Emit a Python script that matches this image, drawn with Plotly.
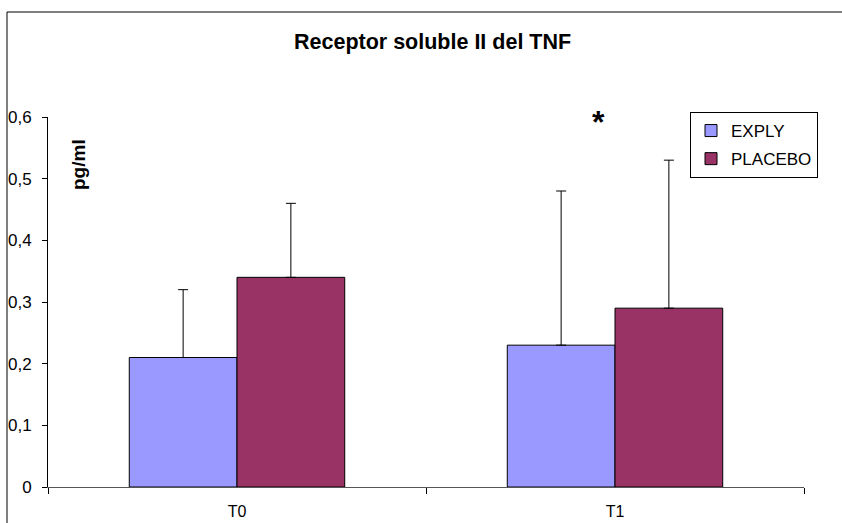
import plotly.graph_objects as go

# Data
categories = ["T0", "T1"]
exply_values = [0.21, 0.23]
exply_err = [0.11, 0.25]
placebo_values = [0.34, 0.29]
placebo_err = [0.12, 0.24]
y_tick_vals = [0, 0.1, 0.2, 0.3, 0.4, 0.5, 0.6]
y_tick_text = ["0", "0,1", "0,2", "0,3", "0,4", "0,5", "0,6"]

FONT = "Liberation Sans, Arial, sans-serif"

fig = go.Figure()
fig.add_trace(go.Bar(
    name="EXPLY", x=categories, y=exply_values,
    marker=dict(color="#9999FF", line=dict(color="#000000", width=1)),
    error_y=dict(type="data", array=exply_err, arrayminus=[0, 0], symmetric=False,
                 color="#000000", thickness=1, width=5),
    legendgroup="a",
))
fig.add_trace(go.Bar(
    name="PLACEBO", x=categories, y=placebo_values,
    marker=dict(color="#993366", line=dict(color="#000000", width=1)),
    error_y=dict(type="data", array=placebo_err, arrayminus=[0, 0], symmetric=False,
                 color="#000000", thickness=1, width=5),
    legendgroup="b",
))

L, R, T, B = 48, 38, 117, 36
W, H = 842, 523
pw, ph = W - L - R, H - T - B

def px_x(x):
    return (x - L) / pw

def px_y(y):
    return (H - B - y) / ph

fig.update_layout(
    width=W, height=H,
    margin=dict(l=L, r=R, t=T, b=B, autoexpand=False),
    paper_bgcolor="white", plot_bgcolor="white",
    font=dict(family=FONT, size=16, color="#000000"),
    barmode="group", bargap=0.43, bargroupgap=0,
    showlegend=True,
    legend=dict(
        x=px_x(818), y=px_y(112), xanchor="right", yanchor="top",
        bordercolor="#000000", borderwidth=1, bgcolor="white",
        font=dict(family=FONT, size=17),
        traceorder="grouped", tracegroupgap=3,
        itemwidth=30,
    ),
    xaxis=dict(
        showline=True, linecolor="#555555", linewidth=1,
        ticks="outside", tickson="boundaries", ticklen=6, tickcolor="#000000",
        showgrid=False, ticklabelstandoff=10, automargin=False,
        tickfont=dict(family=FONT, size=16),
    ),
    yaxis=dict(
        range=[0, 0.6], showline=True, linecolor="#000000", linewidth=1,
        ticks="outside", ticklen=5, tickcolor="#000000",
        tickvals=y_tick_vals, ticktext=y_tick_text,
        showgrid=False, zeroline=False, ticklabelstandoff=7, automargin=False,
        tickfont=dict(family=FONT, size=17),
    ),
    annotations=[
        dict(text="<b>Receptor soluble II del TNF</b>", xref="paper", yref="paper",
             x=px_x(432), y=px_y(42), xanchor="center", yanchor="middle",
             showarrow=False, font=dict(family=FONT, size=21.5)),
        dict(text="<b>pg/ml</b>", xref="paper", yref="paper",
             x=px_x(78), y=px_y(165), xanchor="center", yanchor="middle",
             textangle=-90, showarrow=False, font=dict(family=FONT, size=19)),
        dict(text="<b>*</b>", xref="paper", yref="paper",
             x=px_x(598), y=px_y(122), xanchor="center", yanchor="middle",
             showarrow=False, font=dict(family=FONT, size=32)),
    ],
    shapes=[
        dict(type="rect", xref="paper", yref="paper",
             x0=px_x(7), x1=px_x(850), y0=px_y(530), y1=px_y(12),
             line=dict(color="#000000", width=1), fillcolor="rgba(0,0,0,0)",
             layer="below"),
    ],
)

fig.write_html("out.html")
